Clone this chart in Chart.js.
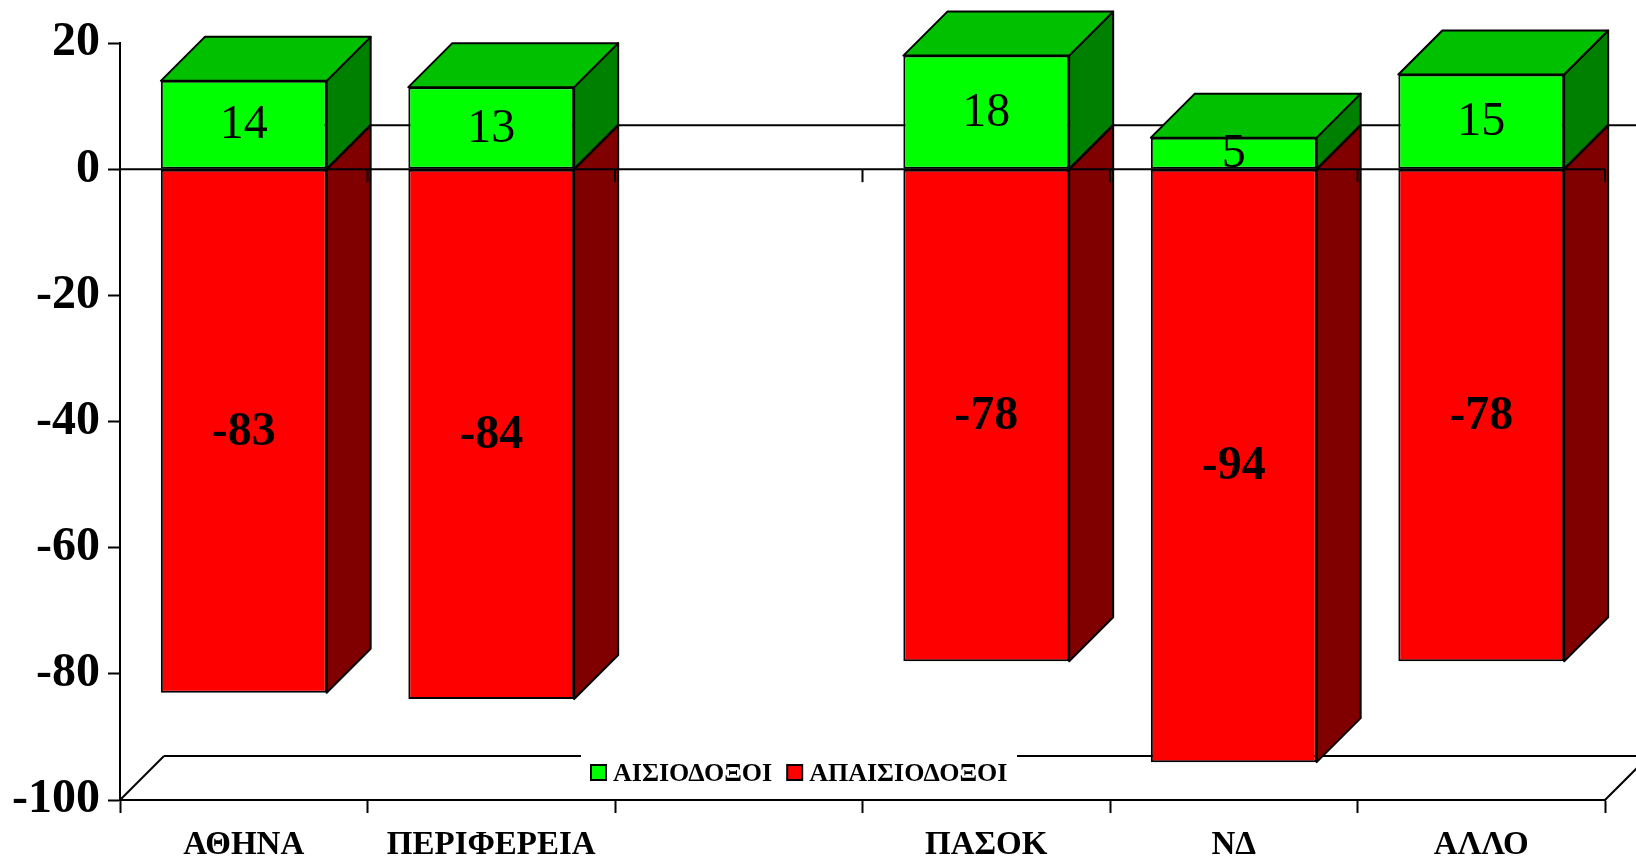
<!DOCTYPE html>
<html>
<head>
<meta charset="utf-8">
<script src="https://cdn.jsdelivr.net/npm/chart.js@4.4.1/dist/chart.umd.min.js"></script>
<style>
  html, body { margin: 0; padding: 0; background: #fff; }
  #wrap { width: 1636px; height: 858px; }
</style>
</head>
<body>
<div id="wrap"><canvas id="chart"></canvas></div>
<script>
'use strict';

// ── Data ──────────────────────────────────────────────────────────────────────
const categories = ['ΑΘΗΝΑ', 'ΠΕΡΙΦΕΡΕΙΑ', '', 'ΠΑΣΟΚ', 'ΝΔ', 'ΑΛΛΟ'];
const optimists = [14, 13, null, 18, 5, 15];
const pessimists = [-83, -84, null, -78, -94, -78];
const seriesNames = ['ΑΙΣΙΟΔΟΞΟΙ', 'ΑΠΑΙΣΙΟΔΟΞΟΙ'];
const yMin = -100, yMax = 20, yStep = 20;

const SERIF = "'Liberation Serif', 'Times New Roman', serif";

function poly(ctx, pts, fill) {
  ctx.beginPath();
  ctx.moveTo(pts[0][0], pts[0][1]);
  for (let i = 1; i < pts.length; i++) ctx.lineTo(pts[i][0], pts[i][1]);
  ctx.closePath();
  if (fill) { ctx.fillStyle = fill; ctx.fill(); }
  ctx.stroke();
}

function line(ctx, x1, y1, x2, y2) {
  ctx.beginPath(); ctx.moveTo(x1, y1); ctx.lineTo(x2, y2); ctx.stroke();
}

// ── 3D look: floor, back line, side/top faces, value labels, legend ──────────
const depth3d = {
  id: 'depth3d',
  beforeDatasetsDraw(chart, args, o) {
    const { ctx, chartArea: a, scales } = chart;
    const D = o.depth;
    const y0 = scales.y.getPixelForValue(0);
    ctx.save();
    ctx.strokeStyle = '#000'; ctx.lineWidth = 2;
    // floor
    line(ctx, a.left, a.bottom, a.left + D, a.bottom - D);
    line(ctx, a.left + D, a.bottom - D, a.right + D, a.bottom - D);
    line(ctx, a.right, a.bottom, a.right + D, a.bottom - D);
    // zero line on the back plane
    line(ctx, a.left + D, y0 - D, a.right + D, y0 - D);
    ctx.restore();
  },
  afterDatasetsDraw(chart, args, o) {
    const { ctx, chartArea: a, scales } = chart;
    const D = o.depth;
    const sets = chart.data.datasets;
    const metas = sets.map((d, i) => chart.getDatasetMeta(i));
    ctx.save();
    ctx.strokeStyle = '#000'; ctx.lineWidth = 2; ctx.lineJoin = 'round';
    chart.data.labels.forEach((lab, j) => {
      [1, 0].forEach(di => {
        const ds = sets[di];
        if (ds.data[j] == null) return;
        const { x, y, base, width } = metas[di].data[j].getProps(['x', 'y', 'base', 'width'], true);
        const L = x - width / 2, R = x + width / 2;
        const top = Math.min(y, base), bot = Math.max(y, base);
        poly(ctx, [[R, top], [R + D, top - D], [R + D, bot - D], [R, bot]], ds.sideColor);
        if (ds.data[j] > 0) poly(ctx, [[L, top], [L + D, top - D], [R + D, top - D], [R, top]], ds.topColor);
      });
    });

    // front zero line with category ticks
    const y0 = scales.y.getPixelForValue(0);
    line(ctx, a.left, y0, a.right, y0);
    const n = chart.data.labels.length;
    const slot = scales.x.width / n;
    for (let i = 1; i <= n; i++) line(ctx, scales.x.left + i * slot, y0, scales.x.left + i * slot, y0 + 13);

    // value labels
    ctx.fillStyle = '#000'; ctx.textAlign = 'center'; ctx.textBaseline = 'middle';
    sets.forEach((ds, di) => {
      ctx.font = ds.labelFont;
      metas[di].data.forEach((el, j) => {
        if (ds.data[j] == null) return;
        const { x, y, base } = el.getProps(['x', 'y', 'base'], true);
        ctx.fillText(String(ds.data[j]), x, (y + base) / 2 + 1);
      });
    });
    ctx.restore();
  },
  afterDraw(chart, args, o) {
    const { ctx } = chart;
    const lg = o.legend;
    ctx.save();
    ctx.fillStyle = '#fff';
    ctx.fillRect(lg.x - 10, lg.y - 20, lg.width, 38);
    ctx.font = lg.font;
    ctx.textBaseline = 'middle'; ctx.textAlign = 'left';
    ctx.strokeStyle = '#000'; ctx.lineWidth = 2;
    let x = lg.x;
    chart.data.datasets.forEach(ds => {
      ctx.fillStyle = ds.backgroundColor;
      ctx.fillRect(x, lg.y - 8, 15, 15);
      ctx.strokeRect(x, lg.y - 8, 15, 15);
      x += 22;
      ctx.fillStyle = '#000';
      ctx.fillText(ds.label, x, lg.y + 1);
      x += ctx.measureText(ds.label).width + 15;
    });
    ctx.restore();
  }
};

new Chart(document.getElementById('chart'), {
  type: 'bar',
  data: {
    labels: categories,
    datasets: [
      { label: seriesNames[0], data: optimists, backgroundColor: '#00FF00', sideColor: '#008000', topColor: '#00C000',
        labelFont: `48px ${SERIF}`, borderColor: '#000', borderWidth: 2, borderSkipped: false },
      { label: seriesNames[1], data: pessimists, backgroundColor: '#FF0000', sideColor: '#800000', topColor: '#C00000',
        labelFont: `bold 48px ${SERIF}`, borderColor: '#000', borderWidth: 2, borderSkipped: false }
    ]
  },
  plugins: [depth3d],
  options: {
    responsive: true, maintainAspectRatio: false, animation: false,
    barPercentage: 0.67, categoryPercentage: 1.0,
    layout: { padding: { top: 43, right: 31, left: 0, bottom: 0 } },
    plugins: {
      legend: { display: false },
      tooltip: { enabled: false },
      depth3d: { depth: 44, legend: { x: 591, y: 773, width: 436, font: `bold 26px ${SERIF}` } }
    },
    scales: {
      x: {
        stacked: true,
        afterFit: s => { s.height = 58; },
        border: { display: true, color: '#000', width: 2 },
        grid: { drawOnChartArea: false, drawTicks: true, tickLength: 13, tickColor: '#000', tickWidth: 2, offset: true },
        ticks: { color: '#000', padding: 13, font: { family: SERIF, size: 33, weight: 'bold' }, maxRotation: 0, autoSkip: false }
      },
      y: {
        stacked: true, min: yMin, max: yMax,
        afterFit: s => { s.width = 120; },
        border: { display: true, color: '#000', width: 2 },
        grid: { drawOnChartArea: false, drawTicks: true, tickLength: 12, tickColor: '#000', tickWidth: 2 },
        ticks: { stepSize: yStep, color: '#000', padding: 8, font: { family: SERIF, size: 48, weight: 'bold' } }
      }
    }
  }
});
</script>
</body>
</html>
